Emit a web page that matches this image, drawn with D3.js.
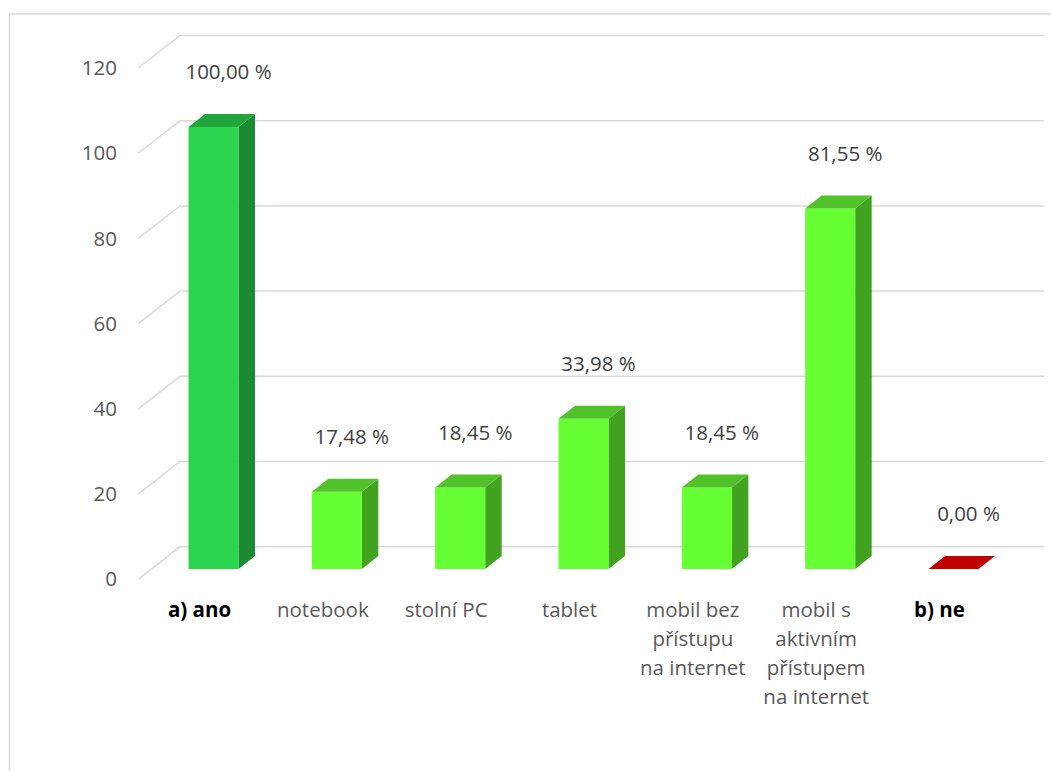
<!DOCTYPE html>
<html>
<head>
<meta charset="utf-8">
<script src="https://cdn.jsdelivr.net/npm/d3@7"></script>
<style>
  html, body { margin: 0; padding: 0; background: #fff; }
  svg { display: block; font-family: "Open Sans", "Noto Sans", sans-serif; }
</style>
</head>
<body>
<svg id="chart" width="1051" height="771"></svg>
<script>
// Categories (the two answers and the device breakdown under "a) ano")
const categories = [
  "a) ano",
  "notebook",
  "stolní PC",
  "tablet",
  "mobil bez přístupu na internet",
  "mobil s aktivním přístupem na internet",
  "b) ne"
];
// Label lines for the category axis
const categoryLines = [
  ["a) ano"],
  ["notebook"],
  ["stolní PC"],
  ["tablet"],
  ["mobil bez", "přístupu", "na internet"],
  ["mobil s", "aktivním", "přístupem", "na internet"],
  ["b) ne"]
];
// Share of respondents, in percent
const values = [100.00, 17.48, 18.45, 33.98, 18.45, 81.55, 0.00];
// Which row is an answer heading and which is a sub-item
const rowKind = ["yes", "item", "item", "item", "item", "item", "no"];
// Value-axis ticks
const tickValues = [0, 20, 40, 60, 80, 100, 120];

const svg = d3.select("#chart");
const W = 1051, H = 771;

// chart area frame
svg.append("rect")
  .attr("x", 9.5).attr("y", 14)
  .attr("width", W + 20).attr("height", H + 20)
  .attr("fill", "#fff")
  .attr("stroke", "#d9d9d9").attr("stroke-width", 1.5);

// 3D geometry: front edge of the floor and the back wall
const frontX = 138.3, backX = 180, wallRight = 1044;
const yFront = d3.scaleLinear().domain([0, 120]).range([579.3, 68]);
const yBack  = d3.scaleLinear().domain([0, 120]).range([546.7, 35.5]);

// gridlines: diagonal on the side wall, horizontal on the back wall
const grid = svg.append("g").attr("fill", "none")
  .attr("stroke", "#d9d9d9").attr("stroke-width", 1.5);
grid.selectAll("path").data(tickValues).join("path")
  .attr("d", t => `M${frontX},${yFront(t)}L${backX},${yBack(t)}L${wallRight},${yBack(t)}`);

// value-axis labels
svg.append("g").selectAll("text").data(tickValues).join("text")
  .attr("x", 117).attr("y", t => yFront(t))
  .attr("dy", "0.35em")
  .attr("text-anchor", "end")
  .attr("font-size", 20.5)
  .attr("fill", "#595959")
  .text(d => d);

// bars sit in the middle of the floor depth
const xCenter = d3.scalePoint().domain(categories).range([213.5, 953.5]);
const yBar = d3.scaleLinear().domain([0, 100]).range([569, 127]);
const barW = 50, depthX = 16.5, depthY = -13;

const palette = {
  yes:  { front: "#2bd54e", side: "#1b8a31", top: "#22a63c" },
  item: { front: "#66ff33", side: "#42a321", top: "#52c22b" },
  no:   { front: "#c00000", side: "#900000", top: "#c00000" }
};

const rows = categories.map((c, i) => ({ c, v: values[i], kind: rowKind[i], lines: categoryLines[i] }));

const bars = svg.append("g").selectAll("g").data(rows).join("g");
bars.each(function(d) {
  const g = d3.select(this);
  const col = palette[d.kind];
  const x0 = xCenter(d.c) - barW / 2, x1 = xCenter(d.c) + barW / 2;
  const yb = yBar(0), yt = yBar(d.v);
  // side face
  if (yb - yt > 0) {
    g.append("path")
      .attr("d", `M${x1},${yt}L${x1 + depthX},${yt + depthY}L${x1 + depthX},${yb + depthY}L${x1},${yb}Z`)
      .attr("fill", col.side);
    g.append("rect")
      .attr("x", x0).attr("y", yt).attr("width", barW).attr("height", yb - yt)
      .attr("fill", col.front);
  }
  // top face
  g.append("path")
    .attr("d", `M${x0},${yt}L${x0 + depthX},${yt + depthY}L${x1 + depthX},${yt + depthY}L${x1},${yt}Z`)
    .attr("fill", col.top);
});

// value labels above each bar
const fmt = v => v.toFixed(2).replace(".", ",") + " %";
svg.append("g").selectAll("text").data(rows).join("text")
  .attr("x", d => xCenter(d.c) + 15)
  .attr("y", d => yBar(d.v) + depthY - 42)
  .attr("dy", "0.35em")
  .attr("text-anchor", "middle")
  .attr("font-size", 20.5)
  .attr("fill", "#404040")
  .text(d => fmt(d.v));

// category labels along the front edge of the floor
const catG = svg.append("g").selectAll("text").data(rows).join("text")
  .attr("x", d => xCenter(d.c) - 14)
  .attr("y", 617)
  .attr("text-anchor", "middle")
  .attr("font-size", 20.5)
  .attr("font-weight", d => d.kind === "item" ? "normal" : "bold")
  .attr("fill", d => d.kind === "item" ? "#595959" : "#000");
catG.selectAll("tspan").data(d => d.lines.map(l => ({ l, x: xCenter(d.c) - 14 }))).join("tspan")
  .attr("x", t => t.x)
  .attr("dy", (t, i) => i === 0 ? 0 : 29)
  .text(t => t.l);
</script>
</body>
</html>
